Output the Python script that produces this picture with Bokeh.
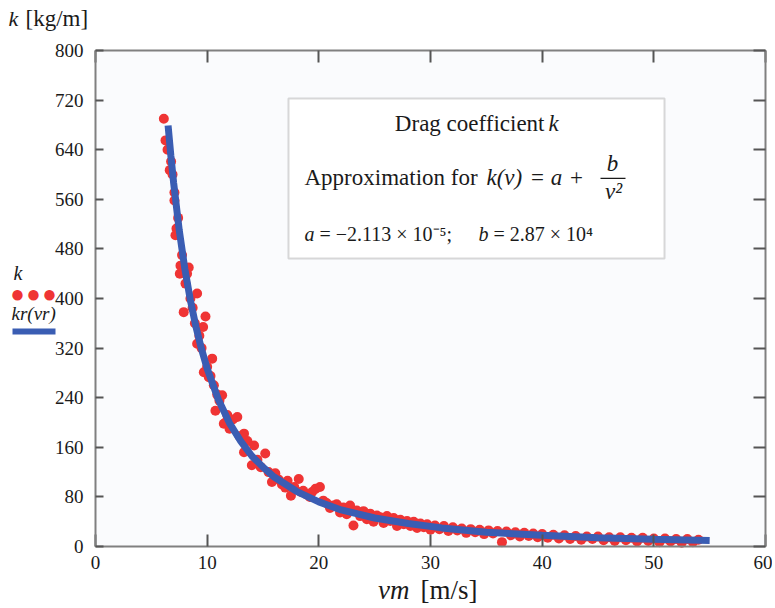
from bokeh.plotting import figure
from bokeh.models import Label, BoxAnnotation, LinearAxis, FixedTicker, Range1d
from bokeh.embed import file_html
from bokeh.resources import INLINE

# ---- data ----
v_meas = [6.12, 6.27, 6.45, 6.65, 6.77, 6.9, 7.07, 7.07, 7.16, 7.25, 7.4, 7.55, 7.61, 7.75, 7.9,
          8.06, 8.2, 8.35, 8.5, 8.7, 8.9, 9.1, 9.1, 9.3, 9.5, 9.64, 9.7, 9.85, 10.0, 10.15,
          10.3, 10.45, 10.6, 10.74, 10.9, 11.1, 11.34, 11.49, 11.64, 11.8,
          12.0, 12.3, 12.7, 12.9, 13.3, 13.3, 13.6, 14.0, 14.2, 14.5, 14.8, 15.2, 15.5, 15.8,
          16.1, 16.4, 16.7, 17.0, 17.2, 17.5, 17.8, 18.2, 18.4, 18.6, 18.9, 19.2, 19.4, 19.7,
          20.1, 20.4, 20.7, 21.0, 21.3,
          21.6, 21.9, 22.2, 22.5, 22.8, 23.1, 23.4, 23.7, 24.0, 24.3, 24.6, 24.9, 25.2, 25.5,
          25.8, 26.1, 26.4, 26.7, 27.0, 27.3, 27.6, 27.9, 28.2, 28.5, 28.8, 29.1, 29.4, 29.7, 30.0,
          30.4, 30.8, 31.2, 31.6, 32.0, 32.4, 32.8, 33.2, 33.6, 34.0, 34.4, 34.8, 35.2, 35.6,
          36.0, 36.4, 36.8, 37.2, 37.6, 38.0, 38.4, 38.8, 39.2, 39.6, 40.0,
          40.5, 41.0, 41.5, 42.0, 42.5, 43.0, 43.5, 44.0, 44.5, 45.0, 45.5, 46.0, 46.5, 47.0,
          47.5, 48.0, 48.5, 49.0, 49.5, 50.0, 50.5, 51.0, 51.5, 52.0, 52.5, 53.0, 53.5, 54.0]
k_meas = [690, 655, 640, 607, 621, 600, 571, 558, 502, 513, 530, 440, 453, 470, 378,
          424, 440, 450, 400, 385, 360, 408, 327, 340, 320, 354, 281, 371, 290, 273,
          275, 303, 260, 219, 245, 235, 244, 198, 200, 212,
          190, 205, 209, 178, 182, 152, 170, 131, 163, 140, 128, 150, 120, 104,
          118, 108, 100, 95, 106, 82, 96, 109, 88, 90, 84, 80, 88, 93,
          96, 74, 70, 62, 66,
          68, 55, 63, 52, 66, 34, 58, 49, 57, 44, 53, 40, 50, 47,
          38, 49, 41, 46, 33, 43, 36, 41, 33, 40, 30, 37, 31, 36, 27,
          34, 28, 33, 25, 31, 26, 29, 22, 28, 23, 27, 20, 26, 21,
          25, 7, 24, 18, 23, 16, 22, 17, 21, 15, 20,
          14, 19, 13, 18, 12, 17, 11, 16, 12, 16, 10, 15, 9, 15,
          10, 14, 8, 14, 9, 13, 7, 13, 8, 12, 6, 12, 7, 11]

v_fit = [6.5, 6.75, 7, 7.5, 8, 8.5, 9, 9.5, 10, 11, 12, 13, 14, 15, 16, 18, 20, 22, 25, 28,
         31, 35, 40, 45, 50, 55]
k_fit = [679, 630, 586, 510, 448, 397, 354, 318, 287, 237, 199, 170, 146, 128, 112, 89, 72, 59,
         46, 37, 30, 23, 18, 14, 11.5, 9.5]

x_ticks = [0, 10, 20, 30, 40, 50, 60]
y_ticks = [0, 80, 160, 240, 320, 400, 480, 560, 640, 720, 800]
X_MIN, X_MAX = 0, 60
Y_MIN, Y_MAX = 0, 800

RED = "#ef3434"
BLUE = "#3a5db3"
FRAME = "#808080"
INK = "#1a1a1a"
SERIF = "Liberation Serif"
NB = "\u00a0"

# pixel geometry of the plot area inside the canvas
W, H = 772, 606
PX_L, PX_R, PX_T, PX_B = 95, 765, 50, 546
sx = (PX_R - PX_L) / (X_MAX - X_MIN)
sy = (PX_B - PX_T) / (Y_MAX - Y_MIN)

p = figure(width=W, height=H, output_backend="svg", toolbar_location=None,
           x_range=Range1d(X_MIN - PX_L / sx, X_MAX + (W - PX_R) / sx),
           y_range=Range1d(Y_MIN - (H - PX_B) / sy, Y_MAX + PX_T / sy),
           min_border=0, x_axis_location=None, y_axis_location=None)
p.background_fill_color = "white"
p.border_fill_color = "white"
p.outline_line_color = None
p.xgrid.visible = False
p.ygrid.visible = False

# plot-area background
p.add_layout(BoxAnnotation(left=X_MIN, right=X_MAX, bottom=Y_MIN, top=Y_MAX,
                           fill_color="#fafbfd", fill_alpha=1, line_color=None, level="underlay"))

def style_axis(ax, ticks, tick_in, show_labels):
    ax.ticker = FixedTicker(ticks=ticks)
    ax.axis_line_color = FRAME
    ax.axis_line_width = 2
    ax.major_tick_line_color = "#555555"
    ax.major_tick_line_width = 2
    ax.major_tick_in = tick_in
    ax.major_tick_out = 0
    ax.minor_tick_line_color = None
    ax.major_label_text_font = SERIF
    ax.major_label_text_font_size = "19px"
    ax.major_label_text_color = INK
    if not show_labels:
        ax.major_label_overrides = {t: "" for t in ticks}

bottom = LinearAxis(fixed_location=Y_MIN, bounds=(X_MIN, X_MAX))
style_axis(bottom, x_ticks, 12, True)
bottom.major_label_standoff = 9
p.add_layout(bottom, "below")
left = LinearAxis(fixed_location=X_MIN, bounds=(Y_MIN, Y_MAX))
style_axis(left, y_ticks, 8, True)
left.major_label_standoff = 12
p.add_layout(left, "left")
top = LinearAxis(fixed_location=Y_MAX, bounds=(X_MIN, X_MAX))
style_axis(top, x_ticks, 12, False)
p.add_layout(top, "above")
right = LinearAxis(fixed_location=X_MAX, bounds=(Y_MIN, Y_MAX))
style_axis(right, y_ticks, 12, False)
p.add_layout(right, "right")

p.scatter(v_meas, k_meas, size=10, color=RED, line_color=None)
p.line(v_fit, k_fit, line_width=7, color=BLUE)

# helpers converting reference pixel positions to data positions for annotations
def vx(px):
    return X_MIN + (px - PX_L) / sx

def ky(py):
    return Y_MIN + (PX_B - py) / sy

def lab(text, x, y, size, italic=False, align="left", color=INK):
    p.add_layout(Label(x=vx(x), y=ky(y), text=text, text_font=SERIF,
                       text_font_size=size, text_font_style="italic" if italic else "normal",
                       text_align=align, text_baseline="middle", text_color=color))

# annotation box
p.add_layout(BoxAnnotation(left=vx(288), right=vx(664), top=ky(98), bottom=ky(258),
                           fill_color="white", fill_alpha=1, line_color=FRAME, line_width=2,
                           level="underlay"))
lab("Drag coefficient", 544, 123, "23px", align="right")
lab("k", 548, 123, "23px", italic=True)

lab("Approximation for", 304, 177, "23px")
lab("k(v)", 486, 177, "23px", italic=True)
lab("=", 537, 177, "23px", align="center")
lab("a", 556, 177, "23px", italic=True, align="center")
lab("+", 576, 177, "23px", align="center")
lab("b", 612, 163, "23px", italic=True, align="center")
p.add_layout(BoxAnnotation(left=vx(600), right=vx(625), top=ky(177.2), bottom=ky(178.6),
                           fill_color=INK, fill_alpha=1, line_color=None))
lab("v\u00b2", 613, 191, "23px", italic=True, align="center")

lab("a", 304, 233, "20px", italic=True)
lab(NB + "=" + NB + "\u22122.113" + NB + "\u00d7" + NB + "10\u207b\u2075;", 314, 233, "20px")
lab("b", 478, 233, "20px", italic=True)
lab(NB + "=" + NB + "2.87" + NB + "\u00d7" + NB + "10\u2074", 488, 233, "20px")

# axis titles
lab("k", 8, 18, "22px", italic=True)
lab("[kg/m]", 25, 18, "23px")
lab("vm", 409, 589, "27px", italic=True, align="right")
lab("[m/s]", 420, 589, "27px")

# legend on the left
lab("k", 13, 272, "20px", italic=True)
for x in (17, 33, 49):
    lab("\u25cf", x, 293, "24px", align="center", color=RED)
lab("kr(vr)", 11, 313, "19px", italic=True)
p.add_layout(BoxAnnotation(left=vx(12), right=vx(55), top=ky(328), bottom=ky(334),
                           fill_color=BLUE, fill_alpha=1, line_color=None))

open("out.html", "w").write(file_html(p, INLINE))
